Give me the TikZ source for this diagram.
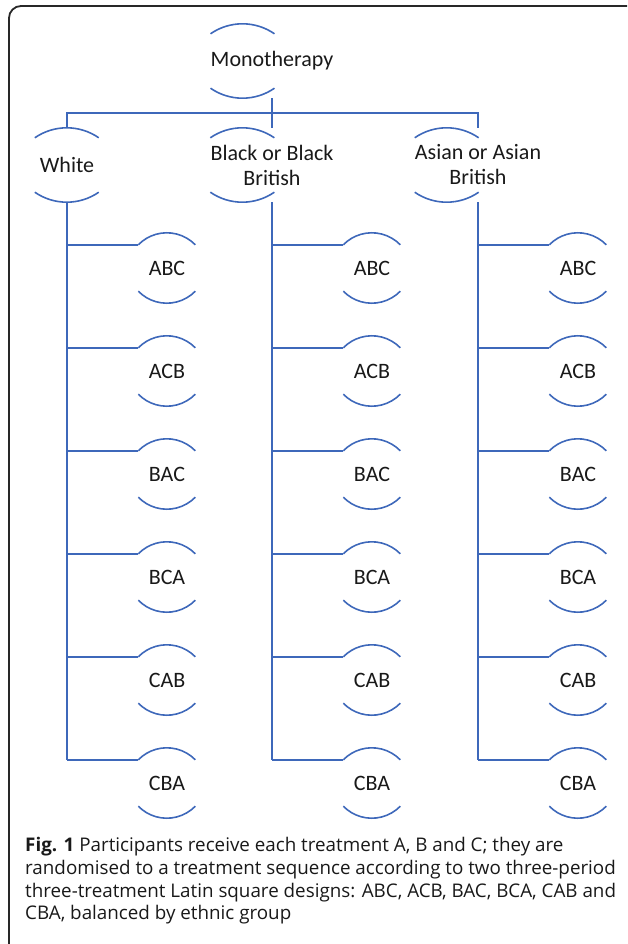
\documentclass[tikz,border=0pt]{standalone}
\usepackage{fontspec}
\setmainfont{Carlito}
\newfontfamily\capfont{Open Sans}
\usetikzlibrary{calc}

\definecolor{linkblue}{RGB}{62,104,186}
\definecolor{framegray}{RGB}{40,40,40}
\definecolor{inkdark}{RGB}{25,25,25}

\tikzset{
  link/.style={draw=linkblue, line width=1.6pt},
  topnode/.style={inner sep=0pt, minimum width=64pt, minimum height=54pt,
    font=\fontsize{22}{25}\selectfont, text=inkdark, align=center},
  seqnode/.style={inner sep=0pt, minimum width=57pt, minimum height=46pt,
    font=\fontsize{22}{25}\selectfont, text=inkdark, align=center},
}

% arcs above and below a level-one node (sagitta 10pt)
\newcommand\toparcs[1]{%
  \draw[link] (#1.north west) arc[start angle=124.7, end angle=55.3, radius=56.2pt];
  \draw[link] (#1.south west) arc[start angle=235.3, end angle=304.7, radius=56.2pt];}
% arcs above and below a sequence node (sagitta 12pt)
\newcommand\seqarcs[1]{%
  \draw[link] (#1.north west) arc[start angle=135.68, end angle=44.32, radius=39.84pt];
  \draw[link] (#1.south west) arc[start angle=224.32, end angle=315.68, radius=39.84pt];}

\begin{document}
\begin{tikzpicture}[x=1pt, y=1pt]
  \useasboundingbox (0,0) rectangle (627,-944);
  \clip (0,0) rectangle (627,-944);

  % outer frame, open to the right and bottom
  \draw[framegray, line width=1.8pt, rounded corners=12pt]
    (9,-960) -- (9,-6) -- (640,-6) -- (640,-960);

  % root
  \node[topnode] (mono) at (272,-61) {Monotherapy};
  \toparcs{mono}

  % ethnic groups
  \node[topnode] (white) at (67,-165) {White};
  \node[topnode] (black) at (272,-165) {Black or Black\\British};
  \node[topnode] (asian) at (478,-165) {Asian or Asian\\British};
  \foreach \g in {white,black,asian} {\toparcs{\g}}

  % bus below the root
  \coordinate (bus) at (272,-113);
  \draw[link] ([yshift=-10pt]mono.south) -- (bus);
  \draw[link] ([yshift=10pt]white.north) -- (white.north |- bus)
              -- (asian.north |- bus) -- ([yshift=10pt]asian.north);
  \draw[link] ([yshift=10pt]black.north) -- (black.north |- bus);

  % treatment sequences under each group
  \foreach \g/\cx in {white/167, black/372, asian/578} {
    \foreach \s [count=\i from 0] in {ABC,ACB,BAC,BCA,CAB,CBA} {
      \node[seqnode] (\g\s) at (\cx,-268-103*\i) {\s};
      \seqarcs{\g\s}
      \draw[link] (\g.south |- \g\s.north west) -- (\g\s.north west);
    }
    \draw[link] ([yshift=-10pt]\g.south) -- (\g.south |- \g CBA.north west);
  }

  % caption
  \node[anchor=north west, inner sep=0pt, align=left, text=inkdark,
        font=\capfont\fontsize{18.8}{22.8}\selectfont] (caption) at (25,-837)
    {\textbf{Fig. 1} Participants receive each treatment A, B and C; they are\\
     randomised to a treatment sequence according to two three-period\\
     three-treatment Latin square designs: ABC, ACB, BAC, BCA, CAB and\\
     CBA, balanced by ethnic group};
\end{tikzpicture}
\end{document}
